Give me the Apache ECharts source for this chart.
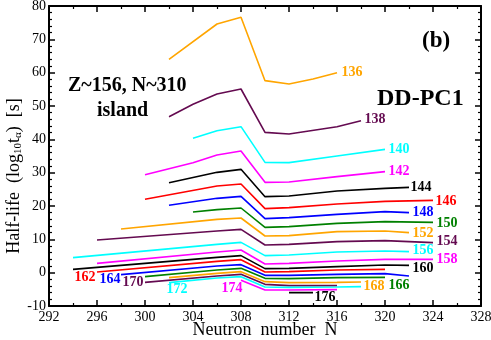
<!DOCTYPE html>
<html>
<head>
<meta charset="utf-8">
<script src="https://cdn.jsdelivr.net/npm/echarts@6/dist/echarts.min.js"></script>
<style>
  html, body { margin: 0; padding: 0; background: #fff; }
  #chart { width: 491px; height: 340px; }
</style>
</head>
<body>
<div id="chart"></div>
<script>
// 各Z同位素链的 [N, log10 t_alpha]
var z136 = [[302, 64.0], [306, 74.6], [308, 76.6], [310, 57.6], [312, 56.6], [314, 58.1], [316, 60.0]];
var z138 = [[302, 46.8], [304, 50.5], [306, 53.6], [308, 55.1], [310, 42.1], [312, 41.6], [316, 43.8], [318, 45.6]];
var z140 = [[304, 40.3], [306, 42.6], [308, 43.8], [310, 33.1], [312, 33.0], [316, 35.0], [320, 37.0]];
var z142 = [[300, 29.4], [304, 33.0], [306, 35.3], [308, 36.5], [310, 27.1], [312, 27.2], [316, 28.8], [320, 30.3]];
var z144 = [[302, 27.0], [306, 30.1], [308, 31.0], [310, 22.8], [312, 23.0], [316, 24.5], [320, 25.3], [322, 25.6]];
var z146 = [[300, 22.0], [306, 26.0], [308, 26.6], [310, 19.2], [312, 19.5], [316, 20.6], [320, 21.4], [324, 21.7]];
var z148 = [[302, 20.2], [306, 22.3], [308, 22.9], [310, 16.2], [312, 16.5], [316, 17.5], [320, 18.3], [322, 18.0]];
var z150 = [[304, 18.2], [306, 18.9], [308, 19.4], [310, 13.6], [312, 13.8], [316, 14.8], [320, 15.3], [324, 15.1]];
var z152 = [[298, 13.1], [306, 16.0], [308, 16.4], [310, 11.0], [312, 11.1], [316, 12.3], [320, 12.5], [322, 12.0]];
var z154 = [[296, 9.8], [306, 12.5], [308, 13.0], [310, 8.3], [312, 8.5], [316, 9.3], [320, 9.6], [324, 9.0]];
var z156 = [[294, 4.5], [306, 8.5], [308, 9.1], [310, 5.1], [312, 5.3], [316, 6.2], [320, 6.5], [322, 6.3]];
var z158 = [[296, 2.8], [306, 6.2], [308, 6.8], [310, 2.6], [312, 2.8], [316, 3.5], [320, 4.0], [324, 4.0]];
var z160 = [[294, 1.0], [306, 4.6], [308, 5.1], [310, 1.2], [312, 1.3], [316, 1.8], [320, 2.3], [322, 2.2]];
var z162 = [[296, 0.2], [306, 3.4], [308, 3.9], [310, 0.2], [312, 0.3], [316, 0.8], [320, 1.0]];
var z164 = [[298, -0.6], [306, 2.0], [308, 2.4], [310, -0.8], [312, -0.8], [316, -0.5], [320, -0.3], [322, -1.0]];
var z166 = [[300, -1.2], [306, 0.8], [308, 1.3], [310, -1.7], [312, -1.8], [316, -1.5], [320, -1.4]];
var z168 = [[302, -1.5], [306, -0.2], [308, 0.3], [310, -2.7], [312, -3.0], [316, -2.9], [318, -2.8]];
var z170 = [[300, -2.9], [306, -1.0], [308, -0.5], [310, -3.5], [312, -3.9], [316, -3.9]];
var z172 = [[302, -3.0], [306, -1.6], [308, -1.2], [310, -4.3], [312, -4.4], [316, -4.3], [318, -4.2]];
var z174 = [[308, -2.3], [310, -5.2], [312, -5.2], [316, -5.1]];
var z176 = [[312, -6.0], [314, -6.0]];

var zNames = ["136", "138", "140", "142", "144", "146", "148", "150", "152", "154", "156",
  "158", "160", "162", "164", "166", "168", "170", "172", "174", "176"];
var chains = [z136, z138, z140, z142, z144, z146, z148, z150, z152, z154, z156,
  z158, z160, z162, z164, z166, z168, z170, z172, z174, z176];
var xTicks = { min: 292, max: 328, step: 4 };
var yTicks = { min: -10, max: 80, step: 10 };

// 颜色循环
var palette = ["#ffa500", "#640a50", "#00ffff", "#ff00ff", "#000000", "#ff0000", "#0000ff", "#008000"];
// 标签挂在线的哪一端，以及相对偏移(px)
var labelAnchor = {
  "136": ["end", 15, 0], "138": ["end", 14, -1], "140": ["end", 14, 0], "142": ["end", 14, 0],
  "144": ["end", 12, 0], "146": ["end", 13, 1], "148": ["end", 14, 0], "150": ["end", 14, 1],
  "152": ["end", 14, 1], "154": ["end", 14, -1], "156": ["end", 14, -1], "158": ["end", 14, 0],
  "160": ["end", 14, 3], "162": ["start", -12, 5], "164": ["start", -11, 5], "166": ["end", 14, 8],
  "168": ["end", 13, 4], "170": ["start", -12, 0], "172": ["start", 8, 7], "174": ["start", -9, 8],
  "176": ["end", 12, 5]
};

var serif = "Liberation Serif";
var chart = echarts.init(document.getElementById("chart"));

function buildSeries() {
  return chains.map(function(pts, i) {
    var name = zNames[i];
    var color = palette[i % palette.length];
    var a = labelAnchor[name];
    var anchor = a[0] === "end" ? pts[pts.length - 1] : pts[0];
    return {
      name: name,
      type: "line",
      data: pts,
      showSymbol: false,
      symbol: "none",
      lineStyle: { color: color, width: 1.6 },
      animation: false,
      z: 3,
      markPoint: {
        silent: true,
        animation: false,
        symbol: "circle",
        symbolSize: 0,
        itemStyle: { color: "transparent" },
        label: {
          show: true,
          position: "inside",
          formatter: name,
          offset: [a[1], a[2]],
          color: color,
          fontFamily: serif,
          fontWeight: "bold",
          fontSize: 14
        },
        data: [{ coord: anchor }]
      }
    };
  });
}

function axisCommon(showLabel) {
  return {
    nameMoveOverlap: false,
    axisLine: { show: true, onZero: false, lineStyle: { color: "#000", width: 2 } },
    axisTick: { show: true, inside: true, length: 6, lineStyle: { color: "#000", width: 1.5 } },
    minorTick: { show: true, length: 3, lineStyle: { color: "#000", width: 1.2 } },
    splitLine: { show: false },
    axisLabel: { show: showLabel, color: "#000", fontFamily: serif, fontSize: 14 }
  };
}

var xBottom = Object.assign(axisCommon(true), {
  type: "value", min: xTicks.min, max: xTicks.max, interval: xTicks.step,
  name: "Neutron  number  N", nameLocation: "middle", nameGap: 15,
  nameTextStyle: { color: "#000", fontFamily: serif, fontSize: 18 }
});
xBottom.minorTick.splitNumber = 2;
xBottom.axisLabel.margin = 4;

var xTop = Object.assign(axisCommon(false), {
  type: "value", position: "top", min: xTicks.min, max: xTicks.max, interval: xTicks.step
});
xTop.minorTick.splitNumber = 2;

var yLeft = Object.assign(axisCommon(true), {
  type: "value", min: yTicks.min, max: yTicks.max, interval: yTicks.step,
  name: "Half-life  (log{sub|10}t{sub|α})  [s]", nameLocation: "middle", nameGap: 25,
  nameTextStyle: {
    color: "#000", fontFamily: serif, fontSize: 18, padding: [0, 40, 0, 0],
    rich: { sub: { fontFamily: serif, fontSize: 11, verticalAlign: "bottom", padding: [9, 0, 0, 0] } }
  }
});
yLeft.minorTick.splitNumber = 5;
yLeft.axisLabel.margin = 3;

var yRight = Object.assign(axisCommon(false), {
  type: "value", position: "right", min: yTicks.min, max: yTicks.max, interval: yTicks.step
});
yRight.minorTick.splitNumber = 5;

chart.setOption({
  backgroundColor: "#fff",
  animation: false,
  grid: { left: 49, right: 10, top: 6, bottom: 34, containLabel: false, outerBoundsMode: "none" },
  xAxis: [xBottom, xTop],
  yAxis: [yLeft, yRight],
  graphic: [
    { type: "text", left: 68, top: 76, style: { text: "Z~156, N~310", font: "bold 20px " + serif, fill: "#000" } },
    { type: "text", left: 97, top: 101, style: { text: "island", font: "bold 20px " + serif, fill: "#000" } },
    { type: "text", left: 377, top: 87, style: { text: "DD-PC1", font: "bold 24px " + serif, fill: "#000" } },
    { type: "text", left: 422, top: 30, style: { text: "(b)", font: "bold 23px " + serif, fill: "#000" } }
  ],
  series: buildSeries()
});
</script>
</body>
</html>
